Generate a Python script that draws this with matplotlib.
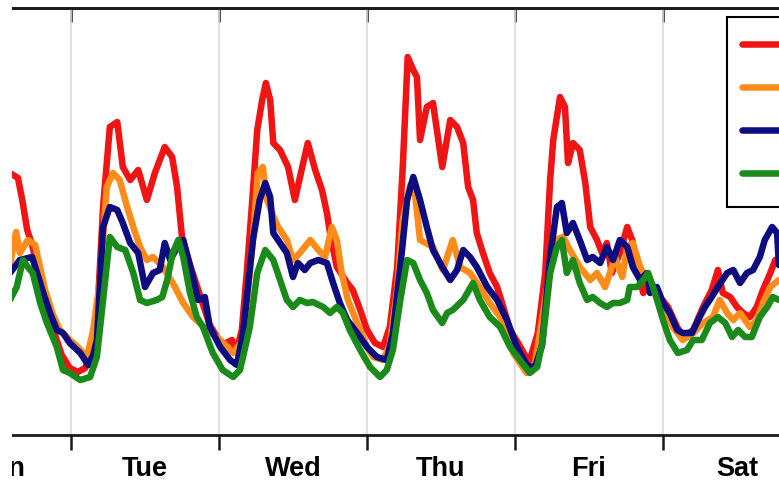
import matplotlib
matplotlib.use("Agg")
import matplotlib.pyplot as plt
from matplotlib.patches import Rectangle

plt.rcParams['font.family'] = ['Liberation Sans', 'DejaVu Sans']

# ---------------- data ----------------
days = ["Mon", "Tue", "Wed", "Thu", "Fri", "Sat", "Sun"]
series_names = ["Series 1", "Series 2", "Series 3", "Series 4"]
colors = ["#f01515", "#ff8c1a", "#0d0d80", "#1a8a1a"]

# time in hours from Monday 00:00, value in arbitrary load units
red_t = [14.1, 15.4, 16.1, 16.9, 17.7, 19.0, 20.3, 21.4, 22.5, 23.8, 25.1, 26.3, 27.4, 28.4,
         29.2, 30.3, 31.5, 32.4, 33.6, 34.9, 36.3, 37.6, 39.2, 40.4, 41.2, 42.0, 43.3, 44.9,
         46.5, 48.5, 50.1, 50.8, 51.7, 52.5, 53.4, 54.2, 55.0, 55.6, 56.3, 56.8, 57.9, 59.2,
         60.3, 61.5, 62.4, 63.6, 64.7, 65.5, 66.0, 67.1, 68.8, 69.7, 70.9, 72.0, 73.3, 74.6,
         75.7, 76.9, 77.8, 78.6, 79.5, 80.1, 80.6, 81.7, 82.7, 84.2, 85.5, 86.6, 87.6, 88.4,
         89.2, 89.8, 90.8, 91.9, 93.1, 94.1, 95.2, 96.5, 97.6, 98.4, 99.7, 100.9, 101.7, 102.2,
         103.3, 104.1, 104.6, 105.4, 106.5, 107.4, 108.2, 109.3, 110.1, 110.9, 111.7, 113.0,
         114.2, 115.0, 115.8, 116.8, 117.9, 119.0, 120.8, 122.3, 123.2, 124.9, 126.5, 127.9,
         128.9, 129.7, 130.9, 132.0, 133.0, 134.1, 135.2, 136.2, 137.4, 138.2, 138.8]
red_v = [262, 257, 235, 205, 190, 155, 125, 100, 80, 67, 63, 67, 85, 135,
         228, 308, 313, 268, 255, 265, 235, 262, 288, 278, 248, 198, 170, 140,
         110, 90, 95, 83, 105, 162, 235, 305, 335, 352, 335, 292, 285, 268,
         235, 268, 292, 265, 245, 222, 202, 168, 152, 145, 125, 105, 92, 88,
         108, 168, 268, 378, 365, 358, 295, 328, 332, 268, 315, 308, 292, 248,
         235, 202, 182, 162, 148, 128, 105, 92, 80, 75, 102, 162, 255, 295,
         338, 328, 272, 292, 285, 252, 208, 195, 182, 192, 162, 182,
         208, 195, 168, 142, 155, 142, 128, 108, 98, 105, 128, 145,
         165, 142, 138, 128, 122, 118, 128, 145, 162, 175, 170]

orange_t = [14.1, 15.1, 15.7, 17.0, 18.2, 19.0, 19.8, 21.1, 22.2, 23.8, 25.1, 26.6, 27.6, 28.7,
            29.8, 30.8, 31.9, 33.1, 34.1, 35.2, 36.3, 37.3, 38.9, 40.5, 42.2, 43.8, 46.1, 48.2,
            50.3, 51.9, 53.5, 54.3, 55.1, 55.8, 57.4, 59.0, 60.0, 61.1, 62.8, 64.1, 65.2, 66.3,
            67.1, 67.9, 68.9, 70.4, 72.0, 73.0, 74.6, 75.7, 76.9, 77.8, 79.0, 79.8, 80.6, 82.7,
            84.3, 85.9, 87.1, 88.7, 90.3, 91.9, 93.6, 95.7, 97.9, 99.2, 100.9, 102.5, 103.8,
            104.9, 106.5, 108.2, 109.3, 110.6, 111.4, 112.2, 113.4, 114.2, 115.1, 116.3, 117.4,
            117.9, 120.0, 121.6, 123.2, 124.9, 126.5, 128.1, 129.2, 130.4, 131.4, 132.5, 134.1,
            135.2, 136.2, 137.4, 138.8]
orange_v = [170, 203, 182, 195, 190, 167, 145, 120, 105, 95, 88, 78, 105, 155,
            248, 262, 255, 228, 208, 188, 175, 178, 168, 152, 132, 118, 105, 95,
            82, 95, 195, 262, 268, 235, 210, 195, 175, 182, 195, 185, 178, 208,
            195, 162, 135, 112, 88, 78, 75, 90, 145, 215, 250, 240, 195, 188,
            165, 195, 168, 162, 148, 132, 118, 82, 62, 70, 135, 195, 198,
            185, 168, 155, 162, 148, 162, 178, 158, 188, 192, 168, 155,
            148, 128, 108, 95, 102, 112, 118, 135, 122, 115, 122, 108,
            115, 132, 148, 155]

navy_t = [14.1, 15.7, 17.7, 18.5, 19.5, 20.6, 21.7, 22.7, 23.8, 25.5, 26.8, 27.6, 28.2, 29.2,
          30.3, 31.5, 32.4, 33.6, 34.9, 36.0, 37.3, 38.4, 39.2, 40.1, 41.2, 42.2, 43.6, 44.6,
          45.7, 46.5, 48.2, 49.8, 50.9, 51.9, 53.5, 54.6, 55.5, 56.3, 56.8, 57.9, 59.0, 60.0,
          60.8, 61.9, 62.8, 64.1, 65.5, 66.5, 67.6, 68.8, 70.4, 72.0, 73.6, 75.2, 76.2, 77.4,
          78.5, 79.5, 80.6, 81.7, 82.7, 84.2, 85.5, 86.6, 87.6, 88.7, 89.8, 91.5, 93.1, 94.7,
          96.3, 97.9, 99.2, 100.4, 101.7, 102.8, 103.6, 104.4, 105.4, 106.5, 107.7, 108.6,
          109.8, 110.9, 111.9, 113.0, 114.2, 115.1, 116.3, 117.4, 117.9, 119.0, 120.0, 121.1,
          122.3, 123.2, 124.7, 125.7, 126.8, 127.9, 128.9, 130.4, 131.4, 132.5, 133.6, 134.6,
          135.7, 136.5, 137.7, 138.5, 138.8]
navy_v = [162, 175, 178, 162, 142, 122, 105, 102, 92, 82, 70, 80, 95, 208,
          228, 225, 212, 192, 182, 148, 162, 165, 192, 175, 188, 195, 162, 135,
          138, 108, 88, 75, 70, 102, 195, 235, 252, 238, 202, 192, 182, 158,
          172, 165, 172, 175, 172, 152, 132, 115, 102, 88, 78, 75, 102, 168,
          235, 258, 235, 208, 185, 168, 155, 165, 185, 178, 168, 148, 135, 115,
          88, 70, 67, 90, 178, 228, 232, 202, 212, 195, 175, 178,
          172, 188, 175, 195, 188, 168, 155, 162, 142, 148, 132, 122,
          105, 102, 102, 115, 128, 138, 148, 162, 165, 152, 162, 165,
          178, 195, 208, 202, 170]

green_t = [14.1, 15.2, 16.2, 17.0, 17.8, 19.0, 20.1, 21.7, 22.7, 23.8, 25.5, 27.1, 28.2, 29.2,
           30.3, 31.5, 32.8, 34.1, 35.2, 36.3, 37.9, 38.8, 39.6, 40.5, 41.4, 42.2, 43.3, 44.4,
           45.4, 47.0, 48.6, 50.3, 51.4, 53.0, 54.2, 55.5, 56.8, 57.9, 59.0, 60.0, 61.1, 62.3,
           63.2, 64.9, 66.0, 67.1, 68.1, 69.2, 70.9, 72.5, 74.1, 75.2, 76.2, 77.4, 78.5, 79.5,
           80.6, 81.7, 82.7, 84.2, 85.0, 85.9, 87.6, 89.2, 90.3, 91.9, 93.6, 95.2, 96.8, 98.4,
           99.6, 100.5, 101.7, 102.8, 103.6, 104.4, 105.4, 106.5, 107.7, 108.6, 109.8, 110.9,
           111.9, 113.0, 114.2, 114.6, 115.8, 116.8, 117.6, 118.7, 120.0, 121.1, 122.4, 123.9,
           124.9, 126.3, 127.6, 128.9, 130.1, 131.2, 132.2, 133.3, 134.4, 135.7, 136.9, 137.8,
           138.8]
green_v = [135, 148, 175, 168, 162, 132, 112, 88, 65, 62, 55, 58, 78, 135,
           198, 188, 185, 162, 135, 132, 135, 138, 155, 182, 195, 178, 142, 118,
           108, 82, 65, 58, 65, 108, 162, 185, 175, 155, 135, 128, 135, 132,
           133, 128, 122, 128, 122, 105, 85, 68, 58, 65, 85, 135, 175, 172,
           155, 142, 125, 112, 122, 125, 135, 152, 135, 118, 108, 88, 75, 62,
           68, 95, 162, 188, 195, 162, 175, 152, 135, 138, 132, 128,
           132, 132, 135, 148, 148, 155, 162, 142, 115, 95, 82, 85,
           95, 95, 112, 118, 112, 98, 105, 98, 98, 118, 128, 138,
           135]

# ---------------- figure ----------------
W, H = 779, 488
fig = plt.figure(figsize=(W / 100, H / 100), dpi=100)
fig.patch.set_facecolor("white")
# the week spans 7 days; the visible window shows part of it
ax = fig.add_axes([-77 / W, 53 / H, 1036 / W, 427 / H])
ax.set_xlim(0, 168)
ax.set_ylim(0, 427)

for t, v, c, name in zip([red_t, orange_t, navy_t, green_t],
                         [red_v, orange_v, navy_v, green_v],
                         colors, series_names):
    ax.plot(t, v, color=c, lw=4.7, solid_joinstyle="round", solid_capstyle="round", label=name)

majors = [24 * i for i in range(8)]
minors = [12 + 24 * i for i in range(7)]
ax.set_xticks(majors)
ax.set_xticklabels([])
ax.set_xticks(minors, minor=True)
ax.set_xticklabels(days, minor=True, fontweight="bold", fontsize=19.5)
ax.tick_params(axis="x", which="major", direction="out", length=11, width=1.8, color="#1a1a1a")
ax.tick_params(axis="x", which="minor", length=0, pad=15)
ax.set_yticks([])
ax.grid(axis="x", which="major", color="#dcdcdc", lw=1.2)
for s in ["top", "bottom"]:
    ax.spines[s].set_linewidth(2.0)
    ax.spines[s].set_color("#1a1a1a")

sec = ax.secondary_xaxis("top")
sec.set_xticks(majors)
sec.xaxis.set_tick_params(which="major", direction="in", length=10, width=1.8,
                          labeltop=False, color="#1a1a1a")
sec.spines["top"].set_linewidth(2.0)
sec.spines["top"].set_color("#1a1a1a")

leg = ax.legend(loc="upper left", bbox_to_anchor=(727 / W, 1 - 17 / H),
                bbox_transform=fig.transFigure, frameon=True, fancybox=False,
                edgecolor="black", framealpha=1, fontsize=24, handlelength=3,
                labelspacing=0.36, borderpad=0.45, borderaxespad=0, handletextpad=0.6)
leg.get_frame().set_linewidth(1.5)

fig.add_artist(Rectangle((0, 0), 12 / W, 1, transform=fig.transFigure,
                         facecolor="white", edgecolor="none", zorder=10))

fig.savefig("out.png", dpi=100)
